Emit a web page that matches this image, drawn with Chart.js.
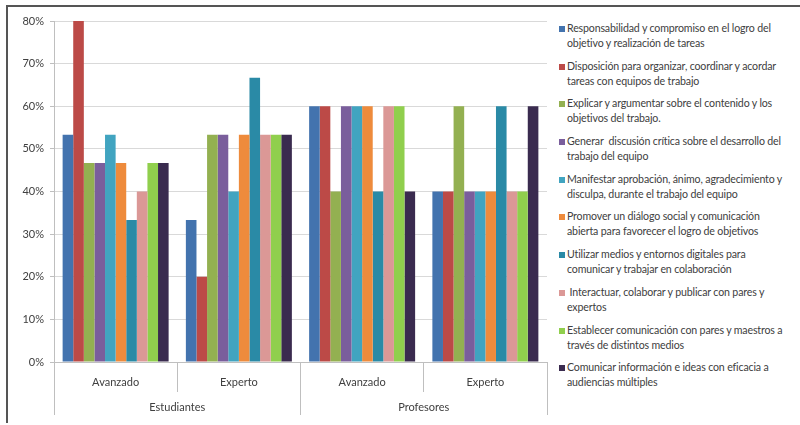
<!DOCTYPE html>
<html>
<head>
<meta charset="utf-8">
<script src="https://cdn.jsdelivr.net/npm/chart.js@4"></script>
<style>
  body { margin: 0; width: 800px; height: 425px; background: #fff; overflow: hidden; position: relative; font-family: Lato, "Open Sans", sans-serif; }
  #frame { position: absolute; left: 6px; top: 5px; width: 800px; height: 416px; border-top: 2px solid #555; border-left: 2px solid #555; }
  #chartBox { position: absolute; left: 0; top: 0; width: 555px; height: 425px; }
  #legend { position: absolute; left: 559px; top: 21px; width: 240px; }
  .item { position: relative; height: 37.7px; font-size: 10.6px; line-height: 15px; color: #404040; white-space: pre; }
  .item span.box { position: absolute; left: 0; top: 5px; width: 6px; height: 6px; }
  .item span.txt { position: absolute; left: 8px; top: 0; letter-spacing: -0.15px; }
</style>
</head>
<body>
<div id="frame"></div>
<div id="chartBox"><canvas id="chart"></canvas></div>
<div id="legend"></div>
<script>
// ================== DATA ==================
const levels = ["Avanzado", "Experto", "Avanzado", "Experto"];
const groups = ["Estudiantes", "Profesores"];
const yTicks = [0, 0.1, 0.2, 0.3, 0.4, 0.5, 0.6, 0.7, 0.8];

const seriesNames = [
  "Responsabilidad y compromiso en el logro del\nobjetivo y realización de tareas",
  "Disposición para organizar, coordinar y acordar\ntareas con equipos de trabajo",
  "Explicar y argumentar sobre el contenido y los\nobjetivos del trabajo.",
  "Generar  discusión crítica sobre el desarrollo del\ntrabajo del equipo",
  "Manifestar aprobación, ánimo, agradecimiento y\ndisculpa, durante el trabajo del equipo",
  "Promover un diálogo social y comunicación\nabierta para favorecer el logro de objetivos",
  "Utilizar medios y entornos digitales para\ncomunicar y trabajar en colaboración",
  " Interactuar, colaborar y publicar con pares y\nexpertos",
  "Establecer comunicación con pares y maestros a\ntravés de distintos medios",
  "Comunicar información e ideas con eficacia a\naudiencias múltiples"
];

const responsabilidad = [0.533, 0.333, 0.60, 0.40];
const disposicion     = [0.80, 0.20, 0.60, 0.40];
const explicar        = [0.467, 0.533, 0.40, 0.60];
const generar         = [0.467, 0.533, 0.60, 0.40];
const manifestar      = [0.533, 0.40, 0.60, 0.40];
const promover        = [0.467, 0.533, 0.60, 0.40];
const utilizar        = [0.333, 0.667, 0.40, 0.60];
const interactuar     = [0.40, 0.533, 0.60, 0.40];
const establecer      = [0.467, 0.533, 0.60, 0.40];
const comunicar       = [0.467, 0.533, 0.40, 0.60];

const seriesValues = [responsabilidad, disposicion, explicar, generar, manifestar,
  promover, utilizar, interactuar, establecer, comunicar];

const colors = ["#4373AE", "#BC4A47", "#93B051", "#7A5E9C", "#41A4C0",
  "#EE8B3C", "#2A8AA6", "#DB9896", "#90CF4D", "#3A2B4F"];

// ================== LEGEND ==================
const legend = document.getElementById("legend");
seriesNames.forEach((name, i) => {
  const div = document.createElement("div");
  div.className = "item";
  div.innerHTML = `<span class="box" style="background:${colors[i]}"></span><span class="txt"></span>`;
  div.querySelector(".txt").textContent = name;
  legend.appendChild(div);
});

// ================== CHART ==================
const axisColor = "#BFBFBF";
const tickFont = { family: "Lato, 'Open Sans', sans-serif", size: 11 };

new Chart(document.getElementById("chart"), {
  type: "bar",
  data: {
    labels: levels,
    datasets: seriesValues.map((vals, i) => ({
      label: seriesNames[i],
      data: vals,
      backgroundColor: colors[i],
      borderWidth: 0,
      categoryPercentage: 0.86,
      barPercentage: 1.0
    }))
  },
  options: {
    responsive: true,
    maintainAspectRatio: false,
    animation: false,
    layout: { padding: { top: 21, right: 8, left: 10, bottom: 10 } },
    plugins: { legend: { display: false }, tooltip: { enabled: false } },
    scales: {
      y: {
        min: 0,
        max: 0.8,
        afterBuildTicks: (s) => { s.ticks = yTicks.map(v => ({ value: v })); },
        afterFit: (s) => { s.width = 44; },
        ticks: {
          color: "#404040",
          font: tickFont,
          padding: 6,
          callback: (v) => Math.round(v * 100) + "%"
        },
        grid: { color: "#D9D9D9", tickLength: 4, tickColor: axisColor },
        border: { color: axisColor }
      },
      x: {
        position: "bottom",
        afterFit: (s) => { s.height = 30; },
        ticks: { color: "#404040", font: tickFont, padding: -16, maxRotation: 0 },
        grid: { display: true, drawOnChartArea: false, offset: true, tickLength: 30, color: axisColor },
        border: { color: axisColor }
      },
      x2: {
        type: "category",
        position: "bottom",
        labels: groups,
        afterFit: (s) => { s.height = 23; },
        ticks: { color: "#404040", font: tickFont, padding: -14, maxRotation: 0 },
        grid: { display: true, drawOnChartArea: false, offset: true, tickLength: 23, color: axisColor },
        border: { display: false }
      }
    }
  }
});
</script>
</body>
</html>
